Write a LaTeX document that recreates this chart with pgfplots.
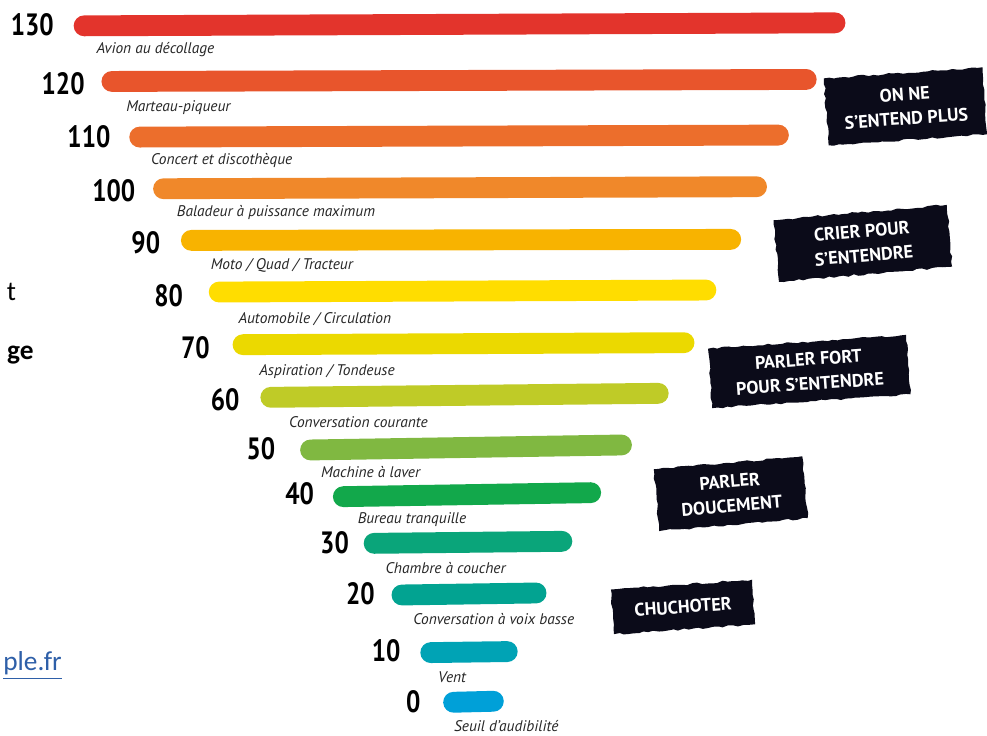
\documentclass[border=0pt]{standalone}
\usepackage{pgfplots}
\pgfplotsset{compat=1.18}
\usepackage{fontspec}
\setmainfont{PT Sans}
\newfontfamily\numfont{PT Sans}[FakeStretch=0.82]
\newfontfamily\carlito{Carlito}
\usetikzlibrary{decorations.pathmorphing}
\definecolor{c130}{HTML}{E3342C}
\definecolor{c120}{HTML}{E8552C}
\definecolor{c110}{HTML}{EC6E2C}
\definecolor{c100}{HTML}{F0882A}
\definecolor{c90}{HTML}{F8B300}
\definecolor{c80}{HTML}{FFDD00}
\definecolor{c70}{HTML}{EBD900}
\definecolor{c60}{HTML}{BFCB27}
\definecolor{c50}{HTML}{80B841}
\definecolor{c40}{HTML}{12A84B}
\definecolor{c30}{HTML}{0AA57A}
\definecolor{c20}{HTML}{02A391}
\definecolor{c10}{HTML}{00A3B5}
\definecolor{c0}{HTML}{00A0D8}
\definecolor{brush}{HTML}{0B0B19}
\definecolor{linkblue}{HTML}{2E5FA8}
\tikzset{
  num/.style={font=\numfont\fontsize{12.4}{13}\selectfont\bfseries, inner sep=0pt},
  lab/.style={font=\fontsize{6.2}{7}\selectfont\itshape, inner sep=0pt, text=black!85},
  brushbox/.style={fill=brush, text=white, align=center, inner sep=0pt,
    font=\fontsize{7.3}{9.8}\selectfont\bfseries,
    decorate, decoration={random steps, segment length=2pt, amplitude=0.4pt}},
}
\begin{document}
\pgfmathsetseed{7}
\begin{tikzpicture}
\begin{axis}[
  name=ax,
  scale only axis, width=394.8pt, height=296pt,
  xmin=0, xmax=987, ymin=0, ymax=740, y dir=reverse,
  axis lines=none, clip=false,
  every axis plot/.append style={line width=8.4pt, line cap=round},
]
% bars: (left end, y) -- (right end, y) ; level in dB given by the label
\addplot[c130] coordinates {(78,26)  (834,23)};
\addplot[c120] coordinates {(106,82) (805,80)};
\addplot[c110] coordinates {(134,138)(777,136)};
\addplot[c100] coordinates {(158,190)(755,188)};
\addplot[c90]  coordinates {(186,242)(729,241)};
\addplot[c80]  coordinates {(214,294)(704,292)};
\addplot[c70]  coordinates {(238,347)(682,345)};
\addplot[c60]  coordinates {(266,400)(656,396)};
\addplot[c50]  coordinates {(306,453)(619,448)};
\addplot[c40]  coordinates {(339,500)(588,496)};
\addplot[c30]  coordinates {(370,547)(559,545)};
\addplot[c20]  coordinates {(398,599)(533,597)};
\addplot[c10]  coordinates {(427,657)(504,656)};
\addplot[c0]   coordinates {(450,707)(490,706)};
% dB values
\node[num, anchor=east] at (48,25) {130};
\node[num, anchor=east] at (79,84) {120};
\node[num, anchor=east] at (105,138) {110};
\node[num, anchor=east] at (130,192) {100};
\node[num, anchor=east] at (155,244) {90};
\node[num, anchor=east] at (178,298) {80};
\node[num, anchor=east] at (205,350) {70};
\node[num, anchor=east] at (235,402) {60};
\node[num, anchor=east] at (271,452) {50};
\node[num, anchor=east] at (310,497) {40};
\node[num, anchor=east] at (345,546) {30};
\node[num, anchor=east] at (371,598) {20};
\node[num, anchor=east] at (397,655) {10};
\node[num, anchor=east] at (417,706) {0};
% labels
\node[lab, anchor=west] at (90,50) {Avion au décollage};
\node[lab, anchor=west] at (120,108) {Marteau-piqueur};
\node[lab, anchor=west] at (145,162) {Concert et discothèque};
\node[lab, anchor=west] at (171,214) {Baladeur à puissance maximum};
\node[lab, anchor=west] at (205,267) {Moto / Quad / Tracteur};
\node[lab, anchor=west] at (233,321) {Automobile / Circulation};
\node[lab, anchor=west] at (254,374) {Aspiration / Tondeuse};
\node[lab, anchor=west] at (284,425) {Conversation courante};
\node[lab, anchor=west] at (316,475) {Machine à laver};
\node[lab, anchor=west] at (353,523) {Bureau tranquille};
\node[lab, anchor=west] at (381,572) {Chambre à coucher};
\node[lab, anchor=west] at (409,623) {Conversation à voix basse};
\node[lab, anchor=west] at (434,682) {Vent};
\node[lab, anchor=west] at (450,731) {Seuil d’audibilité};
% callouts
\node[brushbox, rotate=4, minimum width=64pt, minimum height=27pt] at (905,107) {ON NE\\S'ENTEND PLUS};
\node[brushbox, rotate=5, minimum width=70pt, minimum height=25pt] at (862,245) {CRIER POUR\\S'ENTENDRE};
\node[brushbox, rotate=4, minimum width=80pt, minimum height=24pt] at (808,374) {PARLER FORT\\POUR S'ENTENDRE};
\node[brushbox, rotate=5, minimum width=60pt, minimum height=25pt] at (729,497) {PARLER\\DOUCEMENT};
\node[brushbox, rotate=4, minimum width=57pt, minimum height=18pt] at (681,611) {CHUCHOTER};
% text from the surrounding page, at the left edge
\node[anchor=east, inner sep=0pt, font=\carlito\fontsize{11}{12}\selectfont] at (10,294) {t};
\node[anchor=west, inner sep=0pt, font=\carlito\fontsize{11}{12}\selectfont\bfseries] at (0,357) {ge};
\node[anchor=east, inner sep=0pt, text=linkblue, font=\carlito\fontsize{11}{12}\selectfont] at (56,670) {\underline{ple.fr}};
\end{axis}
\pgfresetboundingbox
\path[use as bounding box] (ax.south west) rectangle (ax.north east);
\end{tikzpicture}
\end{document}
